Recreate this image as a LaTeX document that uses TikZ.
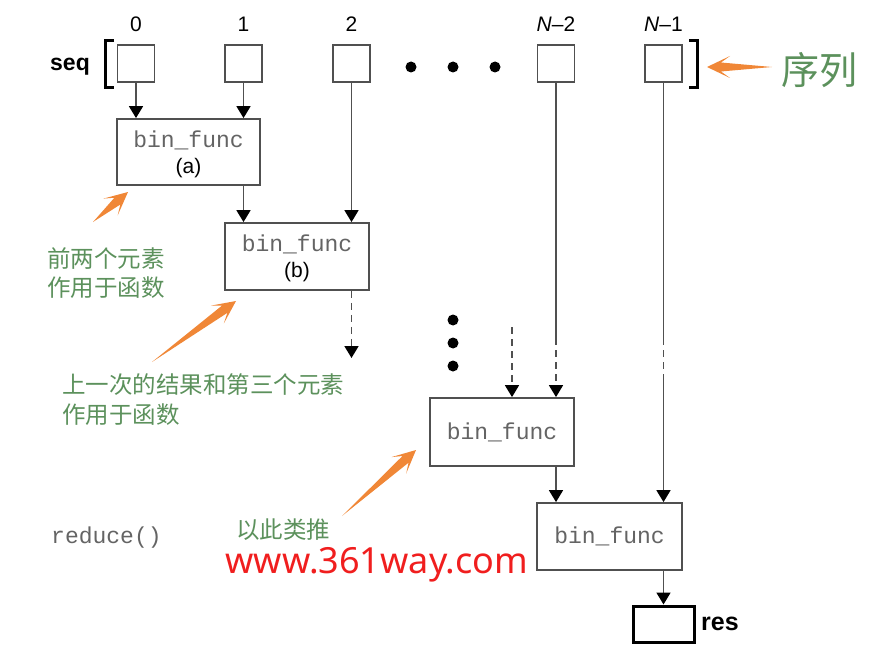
\documentclass[tikz,border=0pt]{standalone}
\usepackage{fontspec}
\setmainfont{Liberation Sans}
\newfontfamily\monof{Liberation Mono}
\newfontfamily\cjk{Noto Sans CJK SC}
\newfontfamily\webf{Noto Sans}
\usetikzlibrary{arrows.meta,calc}
\definecolor{lineg}{RGB}{80,80,80}
\definecolor{textg}{RGB}{100,100,100}
\definecolor{greenc}{RGB}{92,145,92}
\definecolor{dartc}{RGB}{240,135,55}
\definecolor{webred}{RGB}{240,30,30}
\newcommand{\orangedart}[3]{%
  \path ($(#3)!14pt!(#2)$) coordinate (#1j) ($(#3)!23pt!(#2)$) coordinate (#1b);
  \fill[dartc] (#2) -- ($(#1j)!4.5pt!90:(#3)$) -- ($(#1b)!11pt!90:(#3)$) -- (#3)
    -- ($(#1b)!11pt!-90:(#3)$) -- ($(#1j)!4.5pt!-90:(#3)$) -- cycle;
}
\begin{document}
\begin{tikzpicture}[x=1pt,y=-1pt,
  cell/.style={draw=lineg, line width=1.8pt, minimum width=37pt, minimum height=37pt, inner sep=0pt},
  fbox/.style={draw=lineg, line width=1.8pt, inner sep=0pt, fill=white},
  ln/.style={draw=lineg, line width=1.7pt},
  arr/.style={ln, -{Triangle[width=14pt,length=12pt,color=black]}},
  dashes/.style={dash pattern=on 7pt off 5pt},
  idx/.style={font=\fontsize{21}{21}\selectfont, text=black, inner sep=0pt},
  mono/.style={font=\monof\fontsize{23}{23}\selectfont, text=textg, inner sep=0pt},
  cn/.style={font=\cjk\fontsize{23.5}{23.5}\selectfont, text=greenc, inner sep=0pt, anchor=west},
  brk/.style={draw=black, line width=3.5pt, miter limit=10},
]
\useasboundingbox (0,0) rectangle (877,655);

% sequence cells
\node[cell] (s0) at (136,63.5) {};
\node[cell] (s1) at (243.5,63.5) {};
\node[cell] (s2) at (351.5,63.5) {};
\node[cell] (sN2) at (556,63.5) {};
\node[cell] (sN1) at (663.5,63.5) {};

\node[idx] (l0) at (136,24) {0};
\node[idx] (l1) at (243.5,24) {1};
\node[idx] (l2) at (351.5,24) {2};
\node[idx] (lN2) at (556,24) {{\itshape N}–2};
\node[idx] (lN1) at (663.5,24) {{\itshape N}–1};

\node[font=\bfseries\fontsize{23}{23}\selectfont, inner sep=0pt] (seq) at (70,67) {seq};
\draw[brk] (114,40.5) -- (105.5,40.5) -- (105.5,87.5) -- (114,87.5);
\draw[brk] (689,40.5) -- (697.5,40.5) -- (697.5,87.5) -- (689,87.5);

\fill (411,67) circle (5.5pt);
\fill (453,67) circle (5.5pt);
\fill (495,67) circle (5.5pt);

% function boxes
\node[fbox, minimum width=143pt, minimum height=66pt] (fa) at (188.5,152) {};
\node[mono] (ta) at (188.5,140) {bin\_func};
\node[idx] (pa) at (188.5,168) {(a)};
\node[fbox, minimum width=144pt, minimum height=67pt] (fb) at (297,256.5) {};
\node[mono] (tb) at (297,244) {bin\_func};
\node[idx] (pb) at (297,272) {(b)};
\node[fbox, minimum width=144pt, minimum height=68pt] (fc) at (502,432) {};
\node[mono] (tc) at (502,432) {bin\_func};
\node[fbox, minimum width=145pt, minimum height=67pt] (fd) at (609.5,536.5) {};
\node[mono] (td) at (609.5,536) {bin\_func};
\node[draw=black, line width=3pt, minimum width=61pt, minimum height=36pt, inner sep=0pt] (res) at (663.5,624) {};
\node[font=\bfseries\fontsize{25}{25}\selectfont, inner sep=0pt, anchor=west] (rest) at (701,624) {res};

% connectors
\draw[arr] (s0.south) -- (s0.south |- fa.north);
\draw[arr] (s1.south) -- (s1.south |- fa.north);
\draw[arr] (s1 |- fa.south) -- (s1 |- fb.north);
\draw[arr] (s2.south) -- (s2.south |- fb.north);
\coordinate (db) at (351.5,358);
\draw[arr, dashes] (s2 |- fb.south) -- (db);

\fill (453,320) circle (5.5pt);
\fill (453,343) circle (5.5pt);
\fill (453,366) circle (5.5pt);

\coordinate (dc) at (512,327);
\draw[arr, dashes] (dc) -- (dc |- fc.north);
\coordinate (n2a) at (556,338);
\draw[ln] (sN2.south) -- (n2a);
\draw[arr, dashes] (n2a) -- (n2a |- fc.north);
\coordinate (n1a) at (663.5,338);
\coordinate (n1b) at (663.5,378);
\draw[ln] (sN1.south) -- (n1a);
\draw[ln, dashes] (n1a) -- (n1b);
\draw[arr] (n1b) -- (n1b |- fd.north);
\draw[arr] (sN2 |- fc.south) -- (sN2 |- fd.north);
\draw[arr] (sN1 |- fd.south) -- (res.north);

% texts
\node[mono, anchor=west] (red) at (51,538) {reduce()};
\node[cn] (c1) at (47,259) {前两个元素};
\node[cn] (c2) at (47,288) {作用于函数};
\node[cn] (c3) at (62,385) {上一次的结果和第三个元素};
\node[cn] (c4) at (62,415) {作用于函数};
\node[cn] (c5) at (236,530) {以此类推};
\node[cn, font=\cjk\fontsize{38}{38}\selectfont] (c6) at (781,70) {序列};
\node[font=\webf\fontsize{36}{36}\selectfont, text=webred, inner sep=0pt] (web) at (377,565) {www.361way.com};

% orange darts
\coordinate (d1t) at (93,222); \coordinate (d1h) at (128,192);
\coordinate (d2t) at (152,362); \coordinate (d2h) at (236,301);
\coordinate (d3t) at (342,516); \coordinate (d3h) at (416,450);
\coordinate (d4t) at (772,67); \coordinate (d4h) at (707,67);
\orangedart{da}{d1t}{d1h}
\orangedart{dbb}{d2t}{d2h}
\orangedart{dcc}{d3t}{d3h}
\orangedart{dd}{d4t}{d4h}
\end{tikzpicture}
\end{document}
